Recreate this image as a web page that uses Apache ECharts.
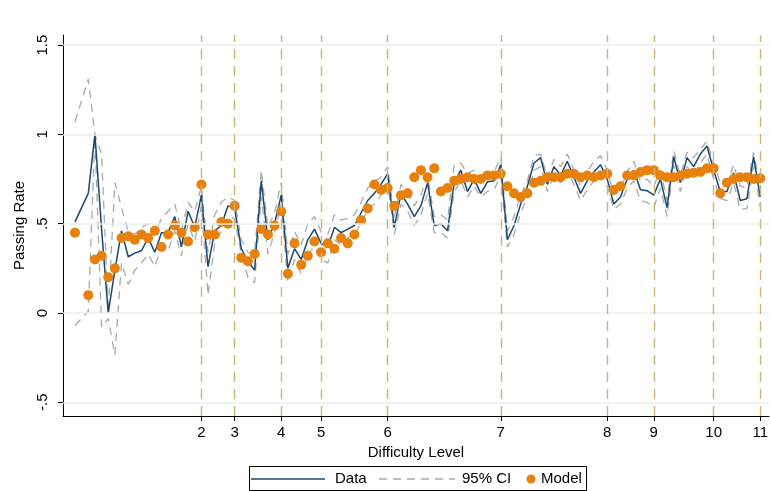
<!DOCTYPE html>
<html>
<head>
<meta charset="utf-8">
<script src="https://cdn.jsdelivr.net/npm/echarts@6/dist/echarts.min.js"></script>
<style>html,body{margin:0;padding:0;background:#fff}#c{width:771px;height:491px}</style>
</head>
<body>
<div id="c"></div>
<script>
// item index (position along the x axis); index 1 has no observation
const itemIndex = [0,2,3,4,5,6,7,8,9,10,11,12,13,14,15,16,17,18,19,20,21,22,23,24,25,26,27,28,29,30,31,32,33,34,35,36,37,38,39,40,41,42,43,44,45,46,47,48,49,50,51,52,53,54,55,56,57,58,59,60,61,62,63,64,65,66,67,68,69,70,71,72,73,74,75,76,77,78,79,80,81,82,83,84,85,86,87,88,89,90,91,92,93,94,95,96,97,98,99,100,101,102,103];
const passingRate = [0.51,0.67,1.00,0.47,0.00,0.24,0.46,0.315,0.335,0.35,0.42,0.34,0.45,0.45,0.54,0.37,0.57,0.48,0.66,0.26,0.46,0.49,0.60,0.585,0.36,0.29,0.24,0.74,0.41,0.50,0.66,0.25,0.36,0.30,0.41,0.47,0.39,0.37,0.48,0.45,0.47,0.49,0.56,0.63,0.67,0.72,0.78,0.48,0.67,0.61,0.54,0.60,0.73,0.49,0.50,0.46,0.73,0.80,0.68,0.75,0.67,0.735,0.74,0.83,0.41,0.49,0.61,0.71,0.84,0.87,0.72,0.82,0.77,0.85,0.76,0.67,0.74,0.79,0.83,0.75,0.61,0.65,0.75,0.80,0.69,0.685,0.66,0.75,0.59,0.875,0.73,0.87,0.82,0.89,0.935,0.80,0.68,0.68,0.785,0.63,0.64,0.875,0.65];
const ciUpper = [1.07,1.31,1.00,0.89,0.01,0.73,0.59,0.455,0.44,0.48,0.50,0.44,0.53,0.57,0.61,0.46,0.62,0.57,0.71,0.34,0.55,0.62,0.65,0.63,0.41,0.34,0.33,0.80,0.48,0.56,0.73,0.33,0.455,0.38,0.50,0.54,0.455,0.44,0.55,0.52,0.53,0.55,0.62,0.70,0.735,0.76,0.82,0.54,0.72,0.67,0.60,0.66,0.77,0.54,0.55,0.52,0.83,0.84,0.78,0.80,0.73,0.78,0.79,0.87,0.46,0.54,0.66,0.74,0.88,0.89,0.76,0.86,0.82,0.89,0.80,0.71,0.79,0.85,0.88,0.80,0.66,0.70,0.79,0.85,0.735,0.75,0.71,0.80,0.63,0.91,0.77,0.90,0.87,0.92,0.96,0.84,0.73,0.72,0.83,0.71,0.70,0.90,0.70];
const ciLower = [-0.07,0.01,0.99,-0.08,-0.03,-0.235,0.28,0.16,0.24,0.28,0.33,0.26,0.37,0.35,0.46,0.32,0.50,0.40,0.60,0.10,0.39,0.455,0.54,0.53,0.33,0.20,0.17,0.65,0.33,0.45,0.61,0.17,0.30,0.22,0.33,0.37,0.30,0.28,0.41,0.38,0.42,0.44,0.50,0.58,0.61,0.66,0.73,0.44,0.61,0.57,0.49,0.55,0.67,0.45,0.45,0.42,0.68,0.74,0.65,0.71,0.65,0.68,0.69,0.77,0.37,0.44,0.56,0.65,0.80,0.82,0.68,0.77,0.73,0.80,0.72,0.63,0.69,0.74,0.78,0.71,0.58,0.61,0.70,0.74,0.63,0.62,0.59,0.70,0.54,0.83,0.68,0.82,0.77,0.84,0.89,0.75,0.64,0.63,0.73,0.58,0.585,0.82,0.595];
const modelRate = [0.45,0.10,0.30,0.32,0.20,0.25,0.42,0.43,0.41,0.44,0.42,0.46,0.37,0.44,0.49,0.45,0.40,0.48,0.72,0.44,0.44,0.51,0.50,0.60,0.31,0.29,0.33,0.47,0.44,0.49,0.57,0.22,0.39,0.27,0.32,0.40,0.34,0.39,0.36,0.42,0.39,0.44,0.52,0.585,0.72,0.69,0.70,0.60,0.66,0.67,0.76,0.80,0.76,0.81,0.68,0.70,0.74,0.75,0.76,0.75,0.75,0.77,0.77,0.78,0.71,0.67,0.65,0.67,0.73,0.74,0.76,0.76,0.76,0.78,0.78,0.76,0.77,0.76,0.77,0.78,0.69,0.71,0.77,0.77,0.79,0.80,0.80,0.77,0.76,0.76,0.77,0.78,0.785,0.79,0.81,0.81,0.67,0.73,0.75,0.76,0.76,0.75,0.755];
// difficulty level tick positions and labels
const levelTicks = [19,24,31,37,47,64,80,87,96,103];
const levelLabels = ['2','3','4','5','6','7','8','9','10','11'];
const yTicks = [-0.5,0,0.5,1,1.5];

const pairs = arr => itemIndex.map((x,i) => [x, arr[i]]);
const fmtY = v => v === 0 ? '0' : (v < 0 ? '-' : '') + String(Math.abs(v)).replace(/^0/, '');
const FONT = 'Liberation Sans, Arial, sans-serif';

const chart = echarts.init(document.getElementById('c'), null, {renderer: 'canvas'});
chart.setOption({
  animation: false,
  backgroundColor: '#fff',
  textStyle: {fontFamily: FONT},
  grid: {left: 63, right: 1, top: 35, bottom: 75, containLabel: false},
  xAxis: {
    type: 'value', min: -1.8, max: 104.3,
    name: 'Difficulty Level', nameLocation: 'middle', nameGap: 29,
    nameTextStyle: {fontSize: 15, color: '#000', fontFamily: FONT},
    axisLine: {show: true, onZero: false, lineStyle: {color: '#000', width: 1}},
    axisTick: {show: true, length: 5, lineStyle: {color: '#000'}, customValues: levelTicks},
    axisLabel: {fontSize: 15, color: '#000', margin: 9, fontFamily: FONT, customValues: levelTicks,
      formatter: v => { const i = levelTicks.indexOf(Math.round(v)); return i >= 0 ? levelLabels[i] : ''; }},
    splitLine: {show: false}
  },
  yAxis: {
    type: 'value', min: -0.577, max: 1.557,
    name: 'Passing Rate', nameLocation: 'middle', nameGap: 34, nameRotate: 90,
    nameTextStyle: {fontSize: 15, color: '#000', fontFamily: FONT},
    axisLine: {show: true, onZero: false, lineStyle: {color: '#000', width: 1}},
    axisTick: {show: true, length: 5, lineStyle: {color: '#000'}, customValues: yTicks},
    axisLabel: {fontSize: 15, color: '#000', rotate: 90, margin: 13, fontFamily: FONT, customValues: yTicks, formatter: fmtY},
    splitLine: {show: false}
  },
  series: [
    {
      name: 'grid', type: 'line', data: pairs(ciLower).slice(0,1), symbol: 'none', silent: true, z: 1,
      lineStyle: {opacity: 0},
      markLine: {silent: true, symbol: 'none', label: {show: false}, animation: false,
        lineStyle: {color: '#e9f1f3', width: 1.5, type: 'solid'},
        data: yTicks.map(v => ({yAxis: v}))}
    },
    {
      name: 'levels', type: 'line', data: pairs(ciLower).slice(0,1), symbol: 'none', silent: true, z: 1,
      lineStyle: {opacity: 0},
      markLine: {silent: true, symbol: 'none', label: {show: false}, animation: false,
        lineStyle: {color: '#c9b677', width: 1.4, type: [10, 7]},
        data: levelTicks.map(v => ({xAxis: v}))}
    },
    {name: '95% CI', type: 'line', data: pairs(ciUpper), symbol: 'none', z: 2,
      lineStyle: {color: '#a9a9a9', width: 1.3, type: [8, 6]}},
    {name: '95% CI lower', type: 'line', data: pairs(ciLower), symbol: 'none', z: 2,
      lineStyle: {color: '#a9a9a9', width: 1.3, type: [8, 6]}},
    {name: 'Data', type: 'line', data: pairs(passingRate), symbol: 'none', z: 3,
      lineStyle: {color: '#1a476f', width: 1.5}},
    {name: 'Model', type: 'scatter', data: pairs(modelRate), symbol: 'circle', symbolSize: 10, z: 4,
      itemStyle: {color: '#e8810c', opacity: 1}}
  ],
  graphic: [
    {type: 'rect', shape: {x: 249.5, y: 466.5, width: 337, height: 24}, style: {fill: '#fff', stroke: '#000', lineWidth: 1}, z: 10},
    {type: 'line', shape: {x1: 251, y1: 479, x2: 325, y2: 479}, style: {stroke: '#1a476f', lineWidth: 1.5}, z: 11},
    {type: 'text', x: 335, y: 479, style: {text: 'Data', font: '15px ' + FONT, fill: '#000', verticalAlign: 'middle'}, z: 11},
    {type: 'line', shape: {x1: 379, y1: 479, x2: 455, y2: 479}, style: {stroke: '#a9a9a9', lineWidth: 1.3, lineDash: [8, 6]}, z: 11},
    {type: 'text', x: 462, y: 479, style: {text: '95% CI', font: '15px ' + FONT, fill: '#000', verticalAlign: 'middle'}, z: 11},
    {type: 'circle', shape: {cx: 531, cy: 479, r: 4.5}, style: {fill: '#e8810c'}, z: 11},
    {type: 'text', x: 541, y: 479, style: {text: 'Model', font: '15px ' + FONT, fill: '#000', verticalAlign: 'middle'}, z: 11}
  ]
});
</script>
</body>
</html>
